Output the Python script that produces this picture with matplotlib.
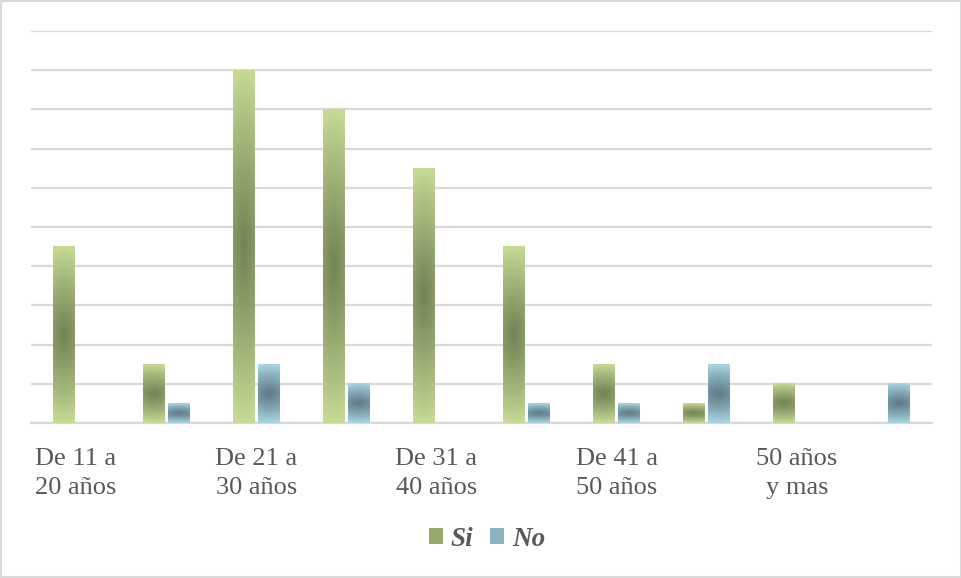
import numpy as np
import matplotlib
matplotlib.use("Agg")
from matplotlib import pyplot as plt
from matplotlib.patches import Patch, Rectangle

# respuestas por rango de edad (10 grupos, solo se rotulan los pares)
si_vals = [9, 3, 18, 16, 13, 9, 3, 1, 2, 0]
no_vals = [0, 1, 3, 2, 0, 1, 1, 3, 0, 2]
tick_labels = ["De 11 a\n20 años", "De 21 a\n30 años", "De 31 a\n40 años",
               "De 41 a\n50 años", "50 años\ny mas"]

green_edge = np.array([198, 218, 148]) / 255
green_mid = np.array([116, 132, 86]) / 255
blue_edge = np.array([168, 214, 226]) / 255
blue_mid = np.array([96, 124, 136]) / 255

plt.rcParams["font.family"] = ["Liberation Serif", "DejaVu Serif"]


def gradient_bar(ax, x0, width, height, mid, edge):
    # path gradient: dark at the centre fading to light edges
    if height <= 0:
        return
    ny, nx = 200, 40
    yy, xx = np.mgrid[-1:1:ny * 1j, -1:1:nx * 1j]
    t = np.sqrt(yy ** 2 + (0.3 * xx) ** 2)
    t = np.clip(t, 0, 1) ** 1.15
    img = mid[None, None, :] + (edge - mid)[None, None, :] * t[:, :, None]
    ax.imshow(img, extent=[x0, x0 + width, 0, height], origin="lower",
              aspect="auto", interpolation="bilinear", zorder=3)


fig = plt.figure(figsize=(9.62, 5.78), dpi=100)
ax = fig.add_axes([31 / 962, 1 - 423 / 578, 901 / 962, 392 / 578])

x = np.arange(len(si_vals))
w = 0.244
off = 0.139
for i in x:
    gradient_bar(ax, i - off - w / 2, w, si_vals[i], green_mid, green_edge)
    gradient_bar(ax, i + off - w / 2, w, no_vals[i], blue_mid, blue_edge)

ax.set_xlim(-0.5, len(si_vals) - 0.5)
ax.set_ylim(0, 20)
ax.set_yticks(np.arange(0, 21, 2))
ax.yaxis.grid(True, color="#d9d9d9", linewidth=1.6)
ax.set_axisbelow(True)
ax.tick_params(axis="y", left=False, labelleft=False)
ax.set_xticks(x[::2])
ax.set_xticklabels(tick_labels, fontsize=19, color="#595959",
                   linespacing=1.42)
ax.tick_params(axis="x", length=0, pad=18)
for s in ["top", "right", "left"]:
    ax.spines[s].set_visible(False)
ax.spines["bottom"].set_color("#d9d9d9")
ax.spines["bottom"].set_linewidth(1.6)

handles = [Patch(facecolor="#94a86a", edgecolor="none", label="Si"),
           Patch(facecolor="#88b2bf", edgecolor="none", label="No")]
leg = fig.legend(handles=handles, loc="center", ncol=2, frameon=False,
                 bbox_to_anchor=(487 / 962, 1 - 539 / 578),
                 prop={"family": "Liberation Serif", "size": 19.5,
                       "weight": "bold", "style": "italic"},
                 handlelength=0.52, handleheight=0.52, handletextpad=0.3,
                 columnspacing=0.6)
for txt in leg.get_texts():
    txt.set_color("#595959")

fig.patches.append(Rectangle((0.001, 0.001), 0.998, 0.997, transform=fig.transFigure,
                             fill=False, edgecolor="#d9d9d9", linewidth=1.5))

fig.savefig("out.png", dpi=100)
